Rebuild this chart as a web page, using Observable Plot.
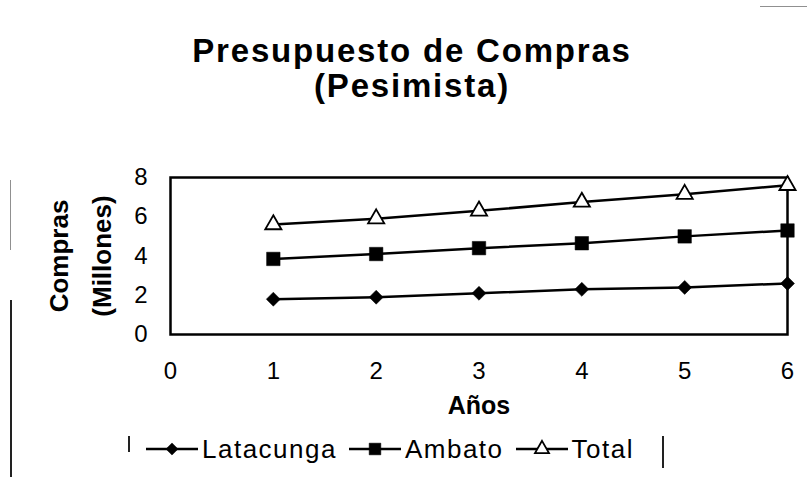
<!DOCTYPE html>
<html>
<head>
<meta charset="utf-8">
<script src="https://cdn.jsdelivr.net/npm/d3@7"></script>
<script src="https://cdn.jsdelivr.net/npm/@observablehq/plot@0.6"></script>
<style>
  html, body { margin: 0; padding: 0; background: #fff; }
  #wrap { position: relative; width: 807px; height: 477px; overflow: hidden; font-family: "Liberation Sans", Arial, sans-serif; color: #000; }
  .title { position: absolute; left: 0; width: 824px; text-align: center; font-weight: bold; font-size: 33px; line-height: 34px; letter-spacing: 1.8px; white-space: nowrap; }
  #chart { position: absolute; left: 0; top: 125px; }
  #legend { position: absolute; left: 0; top: 425px; width: 780px; height: 48px; display: flex; justify-content: center; align-items: center; font-size: 26px; letter-spacing: 1.5px; }
  .item { display: flex; align-items: center; margin: 0 6px; }
  .item svg { margin-right: 4px; }
  .edge { position: absolute; background: #222; }
</style>
</head>
<body>
<div id="wrap">
  <div class="title" id="t1" style="top:34px"></div>
  <div class="title" id="t2" style="top:69px"></div>
  <div id="chart"></div>
  <div id="legend"></div>
  <!-- faint scan edges visible in the reference -->
  <div class="edge" style="left:10px; top:300px; width:1.5px; height:177px;"></div>
  <div class="edge" style="left:10px; top:180px; width:1px; height:70px; opacity:0.5;"></div>
  <div class="edge" style="left:662px; top:436px; width:1.5px; height:32px;"></div>
  <div class="edge" style="left:128px; top:436px; width:1.5px; height:16px;"></div>
  <div class="edge" style="left:760px; top:6px; width:47px; height:1px; opacity:0.5;"></div>
</div>
<script>
// ---- data ----
const titleLines = ["Presupuesto de Compras", "(Pesimista)"];
const years = [1, 2, 3, 4, 5, 6];
const latacunga = [1.8, 1.9, 2.1, 2.3, 2.4, 2.6];
const ambato = [3.85, 4.1, 4.4, 4.65, 5.0, 5.3];
const total = [5.6, 5.9, 6.3, 6.75, 7.15, 7.6];
const seriesNames = ["Latacunga", "Ambato", "Total"];
const xTicks = [0, 1, 2, 3, 4, 5, 6];
const yTicks = [0, 2, 4, 6, 8];
const xLabel = "Años";
const yLabelLines = ["Compras", "(Millones)"];

document.getElementById("t1").textContent = titleLines[0];
document.getElementById("t2").textContent = titleLines[1];

const seriesValues = [latacunga, ambato, total];
const table = [];
seriesNames.forEach((s, i) => years.forEach((yr, j) => table.push({series: s, year: yr, value: seriesValues[i][j]})));
const bySeries = s => table.filter(d => d.series === s);

const symbols = {Latacunga: "diamond2", Ambato: "square", Total: "triangle"};
const fills = {Latacunga: "black", Ambato: "black", Total: "white"};
const radii = {Latacunga: 6.3, Ambato: 7.6, Total: 6};

const plot = Plot.plot({
  width: 807,
  height: 300,
  marginLeft: 170,
  marginRight: 20,
  marginTop: 52,
  marginBottom: 91,
  style: {fontFamily: "'Liberation Sans', Arial, sans-serif", fontSize: "24px", color: "#000", background: "#fff", overflow: "visible"},
  x: {type: "linear", domain: [0, 6]},
  y: {type: "linear", domain: [0, 8]},
  marks: [
    Plot.frame({stroke: "black", strokeWidth: 2.5}),
    Plot.axisX({ticks: xTicks, tickSize: 0, tickPadding: 27, label: null, fontSize: 24, tickFormat: d => String(d)}),
    Plot.axisY({ticks: yTicks, tickSize: 0, tickPadding: 23, label: null, fontSize: 24, tickFormat: d => String(d)}),
    Plot.line(table, {x: "year", y: "value", z: "series", stroke: "black", strokeWidth: 2.5}),
    ...seriesNames.map(s => Plot.dot(bySeries(s), {
      x: "year", y: "value", symbol: () => symbols[s], r: radii[s],
      fill: fills[s], stroke: "black", strokeWidth: s === "Total" ? 1.8 : 0.5
    })),
    Plot.text([xLabel], {text: d => d, frameAnchor: "bottom", dy: 71, textAnchor: "middle", lineAnchor: "middle", fontWeight: "bold", fontSize: 25, letterSpacing: 1}),
    Plot.text([yLabelLines[0]], {text: d => d, frameAnchor: "left", rotate: -90, dx: -111, textAnchor: "middle", lineAnchor: "middle", fontWeight: "bold", fontSize: 26, letterSpacing: 1}),
    Plot.text([yLabelLines[1]], {text: d => d, frameAnchor: "left", rotate: -90, dx: -68, textAnchor: "middle", lineAnchor: "middle", fontWeight: "bold", fontSize: 26, letterSpacing: 1})
  ]
});
document.getElementById("chart").appendChild(plot);

// ---- legend ----
const legend = d3.select("#legend");
seriesNames.forEach(s => {
  const it = legend.append("div").attr("class", "item");
  const sv = it.append("svg").attr("width", 52).attr("height", 20);
  sv.append("line").attr("x1", 0).attr("x2", 52).attr("y1", 10).attr("y2", 10).attr("stroke", "black").attr("stroke-width", 2.5);
  const typ = {Latacunga: d3.symbolDiamond2, Ambato: d3.symbolSquare, Total: d3.symbolTriangle}[s];
  sv.append("path").attr("transform", "translate(26,10)")
    .attr("d", d3.symbol(typ, Math.PI * radii[s] * radii[s] * 0.75)())
    .attr("fill", fills[s]).attr("stroke", "black").attr("stroke-width", s === "Total" ? 1.8 : 0.5);
  it.append("span").text(s);
});
</script>
</body>
</html>
